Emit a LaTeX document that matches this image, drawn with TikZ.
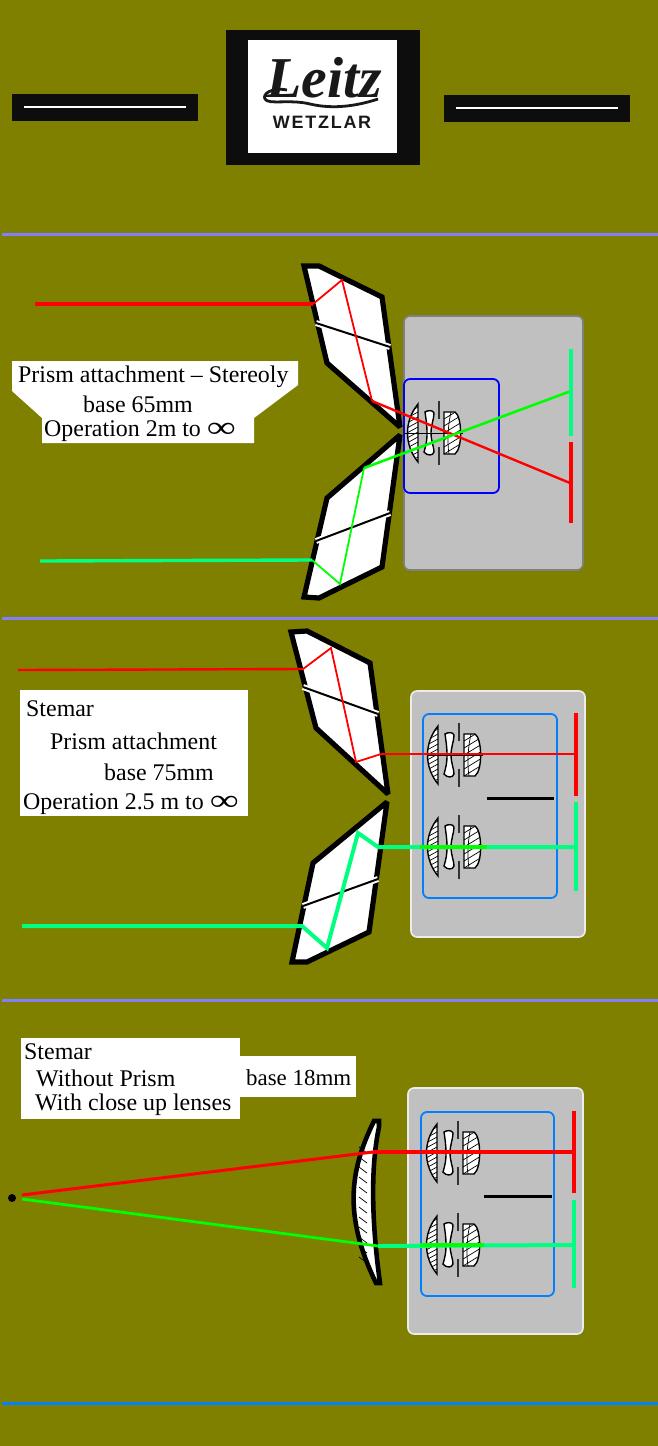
\documentclass[tikz,border=0pt]{standalone}
\usepackage{fontspec}
\setmainfont{Liberation Serif}
\newfontfamily\logosans[LetterSpace=10]{Liberation Sans}
\definecolor{olivebg}{RGB}{128,128,0}
\definecolor{greyback}{RGB}{192,192,192}
\definecolor{skyline}{RGB}{0,128,255}
\definecolor{ruleline}{RGB}{128,128,255}
\definecolor{springray}{RGB}{0,255,128}
\newcommand{\infsym}{\raisebox{-0.1ex}{\scalebox{1.7}[1.25]{∞}}}
\tikzset{
  label/.style={anchor=west, inner sep=0pt, font=\fontsize{24}{26}\selectfont},
  whitebox/.style={fill=white, draw=none},
  rule/.style={line width=3pt, draw=ruleline},
  prism/.style={fill=white, draw=black, line width=5.2pt, miter limit=2.5},
  seamwhite/.style={draw=white, line width=6pt},
  seamblack/.style={draw=black, line width=2pt},
  rayred/.style={draw=red, line width=3pt},
  raythin/.style={draw=red, line width=1.8pt},
  raygreen/.style={draw=springray, line width=4pt},
  raylime/.style={draw=green, line width=1.8pt},
  sensorred/.style={draw=red, line width=4.8pt},
  sensorgreen/.style={draw=springray, line width=4.8pt},
  lensline/.style={draw=black, line width=1.4pt},
  hatch/.style={draw=black, line width=0.7pt},
  housing/.style={fill=greyback, draw=#1, line width=1.6pt, rounded corners=6pt},
  barrel/.style={draw=#1, line width=1.8pt, rounded corners=6pt},
  lensgroup/.pic={
    \draw[lensline, fill=white] (0,-29) .. controls (-14,-12) and (-14,12) .. (0,29) -- cycle;
    \begin{scope}
      \clip (0,-29) .. controls (-14,-12) and (-14,12) .. (0,29) -- cycle;
      \foreach \y in {-28,-23,...,28} {\draw[hatch] (-11,\y+3) -- (0,\y-3);}
    \end{scope}
    \draw[lensline, fill=white] (7,-21) .. controls (10,-23) and (15,-23) .. (16,-20)
      .. controls (16,-14) and (13,-8) .. (13,0) .. controls (13,8) and (16,14) .. (16,19)
      .. controls (15,23) and (9,23) .. (6,19) .. controls (8,12) and (9,8) .. (9,0)
      .. controls (9,-8) and (8,-14) .. (7,-21) -- cycle;
    \draw[draw=black!80, line width=1.5pt] (21,-32) -- (21,-14) (21,14) -- (21,32);
    \draw[lensline, fill=white] (26,-21) -- (37,-21) .. controls (44,-17) and (45,15) .. (37,21) -- (26,21) -- cycle;
    \begin{scope}
      \clip (26,-21) -- (37,-21) .. controls (44,-17) and (45,15) .. (37,21) -- (26,21) -- cycle;
      \foreach \y in {-20,-13,...,24} {\draw[hatch] (26,\y+6) -- (44,\y-5);}
      \draw[hatch] (33,-21) .. controls (30,-8) and (29,8) .. (31,21);
    \end{scope}
  }
}

\begin{document}
\begin{tikzpicture}[x=1bp, y=-1bp]
\fill[olivebg] (0,0) rectangle (658,1446);
\useasboundingbox (0,0) rectangle (658,1446);

% rules
\coordinate (ruleAl) at (2,234.5);   \coordinate (ruleAr) at (658,234.5);
\coordinate (ruleBl) at (2,618);     \coordinate (ruleBr) at (658,618);
\coordinate (ruleCl) at (2,1000.5);  \coordinate (ruleCr) at (658,1000.5);
\coordinate (ruleDl) at (2,1403.5);  \coordinate (ruleDr) at (658,1403.5);
\draw[rule] (ruleAl) -- (ruleAr);
\draw[rule] (ruleBl) -- (ruleBr);
\draw[rule] (ruleCl) -- (ruleCr);
\draw[rule, draw=skyline] (ruleDl) -- (ruleDr);

% logo
\fill[black!95] (226,30) rectangle (420,165);
\fill[white] (248,40) rectangle (397,153);
\fill[black!95] (12,94) rectangle (198,121);
\fill[black!95] (444,95) rectangle (630,122);
\draw[white, line width=1.2pt] (24,107) -- (186,107);
\draw[white, line width=1.2pt] (456,108) -- (618,108);
\node (leitz) at (324,78) [inner sep=0pt, black!90, font=\fontsize{58}{58}\selectfont\bfseries\itshape] {Leitz};
\node (wetzlar) at (322,122.5) [inner sep=0pt, black!90, font=\fontsize{18}{18}\selectfont\logosans\bfseries] {WETZLAR};
\draw[black!90, line width=2.8pt] (287,90) .. controls (272,87) and (262,94) .. (265,99)
  .. controls (268,105) and (290,99) .. (310,104) .. controls (335,110) and (360,105) .. (378,99);

% first panel: stereoly
\path[whitebox] (12,361) -- (298,361) -- (298,385) -- (254,418) -- (254,443) -- (42,443) -- (42,418) -- (12,391) -- cycle;
\node[label] (textAa) at (18,377) {Prism attachment – Stereoly};
\node[label] (textAb) at (83,404) {base  65mm};
\node[label] (textAc) at (44,431) {Operation 2m to \infsym};

\path[housing=gray] (404,316) rectangle (583,570);
\path[barrel=blue] (404,379) rectangle (499,493);
\pic at (418,433) {lensgroup};
\coordinate (axisAl) at (405,433); \coordinate (axisAr) at (463,433);
\draw[black, line width=1pt] (axisAl) -- (axisAr);

\draw[prism] (304,266) -- (319,266) -- (382,297) -- (400,427) -- (327,363) -- cycle;
\draw[prism] (304,597) -- (319,598) -- (382,567) -- (400,435) -- (327,498) -- cycle;
\draw[seamwhite] (316,323) -- (390,347);
\draw[seamblack] (316,323) -- (390,347);
\draw[seamwhite] (316,541) -- (390,513);
\draw[seamblack] (316,541) -- (390,513);

\coordinate (redAa) at (35,304);   \coordinate (redAb) at (313,304);
\coordinate (redAc) at (342,280);  \coordinate (redAd) at (372,401);
\coordinate (redAe) at (570,483);
\draw[rayred, line width=3.6pt] (redAa) -- (redAb);
\draw[raythin] (redAb) -- (redAc) -- (redAd);
\draw[rayred, line width=2.4pt] (redAd) -- (redAe);
\coordinate (greenAa) at (40,561);  \coordinate (greenAb) at (312,560);
\coordinate (greenAc) at (340,584); \coordinate (greenAd) at (364,468);
\coordinate (greenAe) at (571,391);
\draw[raygreen, line width=3.4pt] (greenAa) -- (greenAb);
\draw[raylime] (greenAb) -- (greenAc) -- (greenAd);
\draw[raylime, line width=2.6pt] (greenAd) -- (greenAe);
\draw[sensorgreen] (571,349) -- (571,436);
\draw[sensorred] (571,442) -- (571,523);

% second panel: 75mm
\path[whitebox] (20,690) rectangle (248,816);
\node[label] (textBa) at (26,709) {Stemar};
\node[label] (textBb) at (50,741) {Prism attachment};
\node[label] (textBc) at (104,772) {base  75mm};
\node[label] (textBd) at (23,804) {Operation 2.5 m to \infsym};

\path[housing=white!85!gray] (411,691) rectangle (585,937);
\path[barrel=skyline] (423,714) rectangle (557,898);
\pic at (438,755) {lensgroup};
\pic at (438,847) {lensgroup};
\coordinate (axisBl) at (428,755); \coordinate (axisBr) at (483,755);
\draw[black, line width=1pt] (axisBl) -- (axisBr);
\coordinate (stopBl) at (487,798); \coordinate (stopBr) at (554,798);
\draw[black, line width=3pt] (stopBl) -- (stopBr);

\draw[prism] (291,632) -- (307,631) -- (370,663) -- (388,794) -- (316,728) -- cycle;
\draw[prism] (292,962) -- (307,962) -- (369,932) -- (387,802) -- (313,863) -- cycle;
\draw[seamwhite] (303,687) -- (378,714);
\draw[seamblack] (303,687) -- (378,714);
\draw[seamwhite] (303,906) -- (378,879);
\draw[seamblack] (303,906) -- (378,879);

\coordinate (redBa) at (18,670);   \coordinate (redBb) at (303,669);
\coordinate (redBc) at (331,648);  \coordinate (redBd) at (356,762);
\coordinate (redBe) at (381,754);  \coordinate (redBf) at (576,754);
\draw[rayred, line width=2.4pt] (redBa) -- (redBb);
\draw[raythin] (redBb) -- (redBc) -- (redBd) -- (redBe);
\draw[rayred, line width=2.4pt] (redBe) -- (redBf);
\coordinate (greenBa) at (22,926);  \coordinate (greenBb) at (302,926);
\coordinate (greenBc) at (327,948); \coordinate (greenBd) at (358,833);
\coordinate (greenBe) at (378,847); \coordinate (greenBf) at (576,847);
\draw[raygreen] (greenBa) -- (greenBb) -- (greenBc) -- (greenBd) -- (greenBe) -- (greenBf);
\coordinate (limeBl) at (420,847); \coordinate (limeBr) at (487,847);
\draw[raygreen, draw=green, line width=4.6pt] (limeBl) -- (limeBr);
\draw[sensorred] (576,713) -- (576,796);
\draw[sensorgreen] (576,802) -- (576,891);

% third panel: close up lenses
\path[whitebox] (21,1038) rectangle (240,1119);
\path[whitebox] (240,1056) rectangle (356,1097);
\node[label] (textCa) at (24,1052) {Stemar};
\node[label] (textCb) at (36,1078) {Without Prism};
\node[label] (textCc) at (35,1105) {With close up lenses};
\node[label, font=\fontsize{23}{26}\selectfont] (textCd) at (246,1078) {base 18mm};

\path[housing=white!85!gray] (408,1088) rectangle (583,1334);
\path[barrel=skyline] (421,1112) rectangle (554,1296);
\pic at (437,1153) {lensgroup};
\pic at (437,1245) {lensgroup};
\coordinate (stopCl) at (484,1196); \coordinate (stopCr) at (552,1196);
\draw[black, line width=3pt] (stopCl) -- (stopCr);

\draw[prism, line width=4.6pt] (374,1121) -- (379,1121) -- (379,1127) .. controls (372,1160) and (370,1210) .. (380,1283) -- (376,1283)
  .. controls (343,1215) and (350,1170) .. (374,1121) -- cycle;
\foreach \y in {1150,1160,...,1260} {\draw[black, line width=0.7pt] (359,\y-3) -- (367,\y+3);}

\node (source) at (12,1198) [circle, fill=black, inner sep=0pt, minimum size=8pt] {};
\coordinate (redCa) at (22,1195);  \coordinate (redCb) at (373,1152); \coordinate (redCc) at (574,1152);
\coordinate (greenCa) at (22,1199); \coordinate (greenCb) at (378,1246); \coordinate (greenCc) at (574,1245);
\draw[rayred] (redCa) -- (redCb);
\draw[rayred, line width=3.6pt] (redCb) -- (redCc);
\draw[raylime, line width=2.8pt] (greenCa) -- (greenCb);
\draw[raygreen] (greenCb) -- (greenCc);
\coordinate (limeCl) at (420,1245); \coordinate (limeCr) at (484,1245);
\draw[raygreen, draw=green, line width=4.8pt] (limeCl) -- (limeCr);
\draw[sensorred] (574,1111) -- (574,1193);
\draw[sensorgreen] (574,1200) -- (574,1288);
\end{tikzpicture}
\end{document}
